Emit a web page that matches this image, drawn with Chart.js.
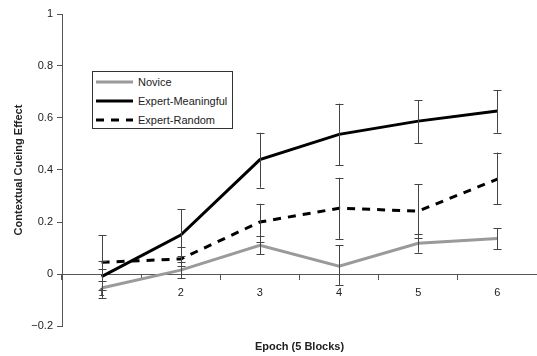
<!DOCTYPE html>
<html>
<head>
<meta charset="utf-8">
<script src="https://cdn.jsdelivr.net/npm/chart.js@4"></script>
<style>
    body { margin: 0; background: #fff; }
    #wrap { position: relative; width: 537px; height: 356px; }
    #legend {
        position: absolute; left: 92px; top: 71px; width: 139px; height: 56px;
        border: 1px solid #333; background: #fff;
        font: 11px "Liberation Sans", Arial, sans-serif; color: #222;
    }
    #legend .row { position: absolute; left: 0; height: 14px; line-height: 14px; }
    #legend svg { position: absolute; left: 3px; top: 3px; }
    #legend span { position: absolute; left: 45px; white-space: nowrap; }
</style>
</head>
<body>
<div id="wrap">
    <canvas id="chart" width="537" height="356"></canvas>
    <div id="legend"></div>
</div>
<script>
const epochs = ['1', '2', '3', '4', '5', '6'];

const novice = [-0.054, 0.015, 0.11, 0.03, 0.118, 0.137];
const meaningful = [-0.01, 0.15, 0.44, 0.537, 0.588, 0.627];
const random = [0.045, 0.058, 0.2, 0.253, 0.242, 0.365];

// error bar ends
const noviceLow = [-0.092, -0.015, 0.076, -0.042, 0.082, 0.095];
const noviceHigh = [-0.027, 0.069, 0.146, 0.11, 0.154, 0.176];
const meaningfulLow = [-0.06, 0.047, 0.332, 0.418, 0.503, 0.543];
const meaningfulHigh = [0.15, 0.25, 0.543, 0.655, 0.669, 0.707];
const randomLow = [0.02, 0.03, 0.125, 0.135, 0.14, 0.269];
const randomHigh = [0.051, 0.105, 0.27, 0.37, 0.346, 0.467];

const yTicks = [-0.2, 0, 0.2, 0.4, 0.6, 0.8, 1];

const FONT = '"Liberation Sans", Arial, sans-serif';

const series = [
    { label: 'Novice', data: novice, low: noviceLow, high: noviceHigh, color: '#9a9a9a', dash: [] },
    { label: 'Expert-Meaningful', data: meaningful, low: meaningfulLow, high: meaningfulHigh, color: '#000', dash: [] },
    { label: 'Expert-Random', data: random, low: randomLow, high: randomHigh, color: '#000', dash: [8, 7] }
];

const errorBars = {
    id: 'errorBars',
    afterDatasetsDraw(chart) {
        const { ctx, scales: { x, y } } = chart;
        ctx.save();
        ctx.strokeStyle = '#444';
        ctx.lineWidth = 1;
        series.forEach(s => {
            s.data.forEach((v, i) => {
                const px = Math.round(x.getPixelForValue(i)) + 0.5;
                const yl = y.getPixelForValue(s.low[i]);
                const yh = y.getPixelForValue(s.high[i]);
                ctx.beginPath();
                ctx.moveTo(px, yl);
                ctx.lineTo(px, yh);
                ctx.moveTo(px - 4, Math.round(yl) + 0.5);
                ctx.lineTo(px + 4, Math.round(yl) + 0.5);
                ctx.moveTo(px - 4, Math.round(yh) + 0.5);
                ctx.lineTo(px + 4, Math.round(yh) + 0.5);
                ctx.stroke();
            });
        });
        ctx.restore();
    }
};

new Chart(document.getElementById('chart'), {
    type: 'line',
    data: {
        labels: epochs,
        datasets: series.map(s => ({
            label: s.label,
            data: s.data,
            borderColor: s.color,
            borderWidth: 3,
            borderDash: s.dash,
            pointRadius: 0,
            tension: 0,
            fill: false
        }))
    },
    options: {
        responsive: false,
        animation: false,
        layout: { padding: { top: 14, right: 0, left: 0, bottom: 0 } },
        plugins: {
            legend: { display: false },
            tooltip: { enabled: false }
        },
        scales: {
            x: {
                type: 'category',
                position: { y: 0 },
                offset: true,
                grid: { display: true, offset: true, drawOnChartArea: false, drawTicks: true, tickLength: 5, color: '#555' },
                border: { display: true, color: '#555', width: 1 },
                ticks: { color: '#222', padding: 7, font: { family: FONT, size: 11 } }
            },
            x2: {
                type: 'category',
                position: 'bottom',
                labels: epochs,
                grid: { display: false },
                border: { display: false },
                ticks: { display: false },
                title: {
                    display: true,
                    text: 'Epoch (5 Blocks)',
                    color: '#222',
                    padding: { top: 0, bottom: 2 },
                    font: { family: FONT, size: 11, weight: 'bold' }
                },
                afterFit: (s) => { s.height = 30; }
            },
            y: {
                min: -0.2,
                max: 1,
                afterBuildTicks: (s) => { s.ticks = yTicks.map(v => ({ value: v })); },
                grid: { display: true, drawOnChartArea: false, drawTicks: true, tickLength: 5, color: '#555' },
                border: { display: true, color: '#555', width: 1 },
                ticks: {
                    color: '#222',
                    padding: 4,
                    font: { family: FONT, size: 11 },
                    callback: (v) => v < 0 ? '\u2212' + Math.abs(v) : String(Math.round(v * 10) / 10)
                },
                title: {
                    display: true,
                    text: 'Contextual Cueing Effect',
                    color: '#222',
                    padding: { top: 12, bottom: 0 },
                    font: { family: FONT, size: 11, weight: 'bold' }
                },
                afterFit: (s) => { s.width = 62; }
            }
        }
    },
    plugins: [errorBars]
});

// legend box drawn as html on top of the plot
const legend = document.getElementById('legend');
series.forEach((s, i) => {
    const row = document.createElement('div');
    row.className = 'row';
    row.style.top = (3 + i * 19) + 'px';
    row.style.width = '139px';
    const dash = s.dash.length ? ` stroke-dasharray="${s.dash.join(' ')}"` : '';
    row.innerHTML = `<svg width="38" height="8"><line x1="0" y1="4" x2="37" y2="4" stroke="${s.color}" stroke-width="3"${dash}/></svg>`;
    const span = document.createElement('span');
    span.textContent = s.label;
    row.append(span);
    legend.append(row);
});
</script>
</body>
</html>
